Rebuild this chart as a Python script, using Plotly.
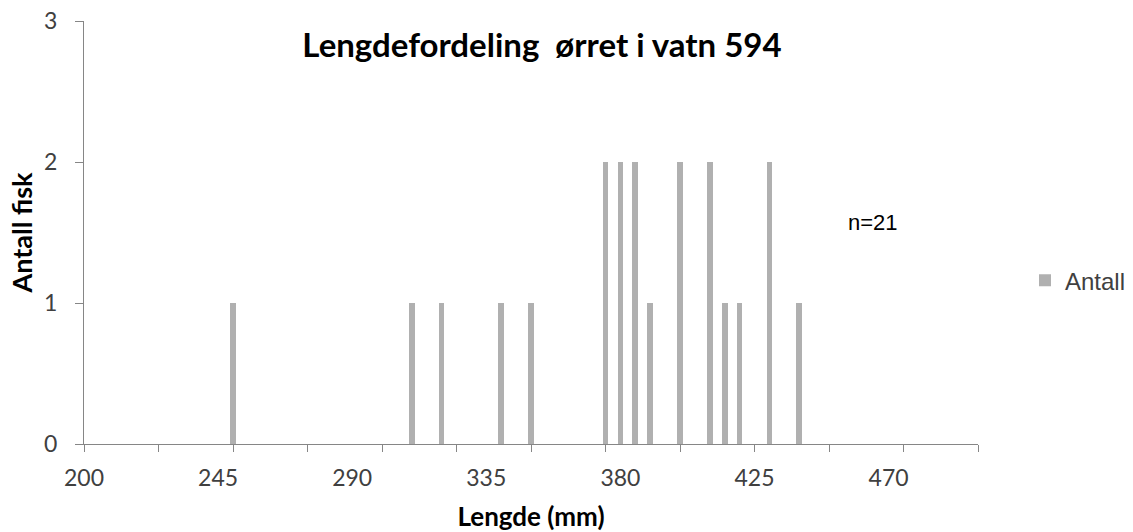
import plotly.graph_objects as go

lengths = [250, 310, 320, 340, 350, 375, 380, 385, 390, 400, 410, 415, 420, 430, 440]
counts = [1, 1, 1, 1, 1, 2, 2, 2, 1, 2, 2, 1, 1, 2, 1]
x_label_vals = [200, 245, 290, 335, 380, 425, 470]
y_tick_vals = [0, 1, 2, 3]

fig = go.Figure()
fig.add_trace(go.Bar(x=lengths, y=counts, width=1.9, name="Antall",
                     marker=dict(color="#B0B0B0", line=dict(width=0))))
fig.add_trace(go.Scatter(x=[], y=[], xaxis="x2", showlegend=False))

axis_color = "#868686"
fig.update_layout(
    width=1133, height=532,
    margin=dict(l=84, r=155, t=21, b=88, autoexpand=False),
    plot_bgcolor="white", paper_bgcolor="white",
    font=dict(family="Lato", color="#404040", size=22),
    title=dict(text="<b>Lengdefordeling  ørret i vatn 594</b>", x=542/1133, xanchor="center",
               y=1 - 45/532, yanchor="middle", xref="container", yref="container",
               font=dict(family="Lato", size=33, color="black")),
    xaxis=dict(range=[200, 500], tickmode="array", tickvals=x_label_vals,
               ticktext=[str(v) for v in x_label_vals], ticks="", showgrid=False,
               zeroline=False, showline=True, linecolor=axis_color, linewidth=1.3,
               ticklabelstandoff=13, tickfont=dict(size=23, color="#404040"), automargin=False,
               title=dict(text="<b>Lengde (mm)</b>", font=dict(size=26, color="black"), standoff=18)),
    xaxis2=dict(range=[200, 500], overlaying="x", anchor="y", side="bottom",
                tickmode="linear", tick0=200, dtick=25, ticks="outside", ticklen=7,
                tickcolor=axis_color, tickwidth=1.3, showticklabels=False, automargin=False,
                showgrid=False, zeroline=False, showline=False),
    yaxis=dict(range=[0, 3], tickvals=y_tick_vals, ticks="outside", ticklen=8,
               tickcolor=axis_color, tickwidth=1.3, showgrid=False, zeroline=False,
               showline=True, linecolor=axis_color, linewidth=1.3, automargin=False,
               ticklabelstandoff=13, tickfont=dict(size=23, color="#404040"),
               title=dict(text="<b>Antall fisk</b>", font=dict(size=27, color="black"), standoff=3)),
    legend=dict(x=(1025-84)/894, y=(444.3-281)/423, xanchor="left", yanchor="middle",
                font=dict(family="Liberation Sans", size=24, color="#404040"),
                bgcolor="rgba(0,0,0,0)", itemwidth=30),
    showlegend=True,
    bargap=0,
)
fig.add_annotation(text="n=21", x=(873-84)/894, y=(444.3-223)/423, xref="paper", yref="paper",
                   showarrow=False, xanchor="center", yanchor="middle",
                   font=dict(family="Liberation Sans", size=22, color="black"))

fig.write_html("out.html")
